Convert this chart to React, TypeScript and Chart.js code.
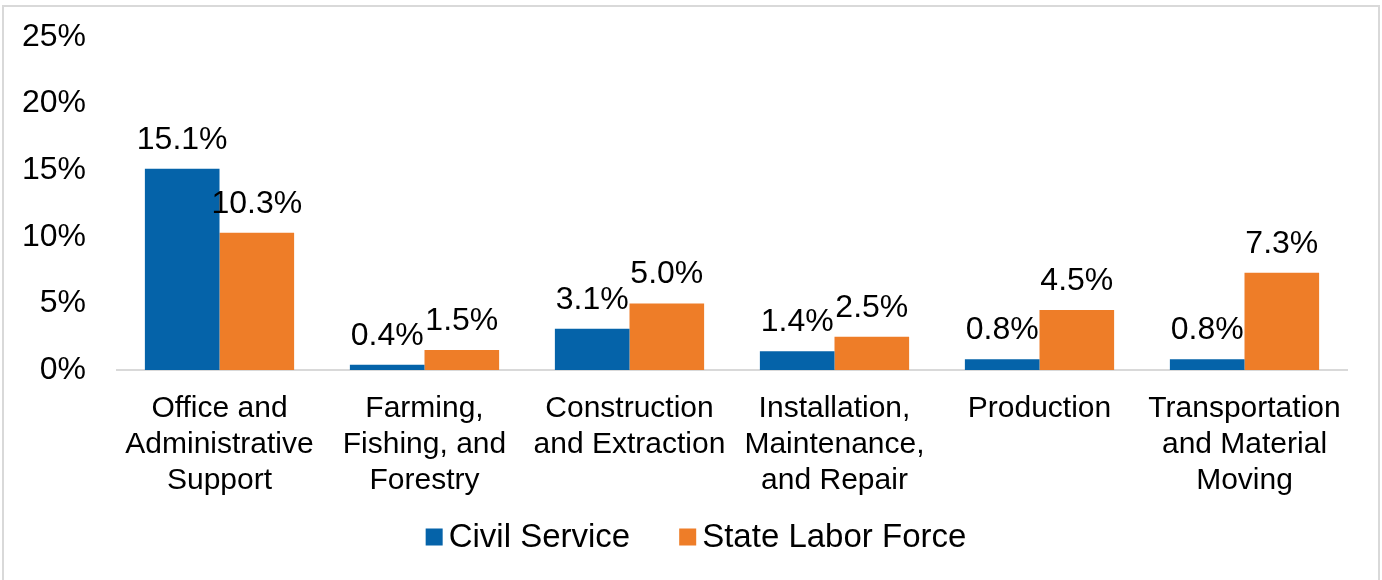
import React, { useEffect, useRef } from "react";
import { Chart, registerables } from "chart.js";

Chart.register(...registerables);

const categories: string[][] = [
  ["Office and", "Administrative", "Support"],
  ["Farming,", "Fishing, and", "Forestry"],
  ["Construction", "and Extraction"],
  ["Installation,", "Maintenance,", "and Repair"],
  ["Production"],
  ["Transportation", "and Material", "Moving"],
];
const civilService: number[] = [15.1, 0.4, 3.1, 1.4, 0.8, 0.8];
const stateLaborForce: number[] = [10.3, 1.5, 5.0, 2.5, 4.5, 7.3];
const seriesNames: string[] = ["Civil Service", "State Labor Force"];
const yTicks: number[] = [0, 5, 10, 15, 20, 25];

const FONT = "'Liberation Sans', Arial, Helvetica, sans-serif";
const BLUE = "#0563a9";
const ORANGE = "#ee7d28";

const dataLabelPlugin = {
  id: "dataLabels",
  afterDatasetsDraw(chart: any) {
    const ctx = chart.ctx;
    ctx.save();
    ctx.font = `32px ${FONT}`;
    ctx.fillStyle = "#000";
    ctx.textAlign = "center";
    ctx.textBaseline = "alphabetic";
    chart.data.datasets.forEach((ds: any, di: number) => {
      const meta = chart.getDatasetMeta(di);
      meta.data.forEach((el: any, i: number) => {
        const v = ds.data[i] as number;
        ctx.fillText(`${v.toFixed(1)}%`, el.x, el.y - 20);
      });
    });
    ctx.restore();
  },
};

const legendPlugin = {
  id: "customLegend",
  afterDraw(chart: any) {
    const ctx = chart.ctx;
    ctx.save();
    ctx.font = `33px ${FONT}`;
    ctx.textBaseline = "middle";
    ctx.textAlign = "left";
    const box = 17;
    const gap = 6;
    const spacing = 49;
    const items = chart.data.datasets.map((ds: any) => ({
      label: ds.label as string,
      color: ds.backgroundColor as string,
      w: ctx.measureText(ds.label).width,
    }));
    const total = items.reduce(
      (s: number, it: any, i: number) => s + box + gap + it.w + (i > 0 ? spacing : 0),
      0
    );
    let x = chart.width / 2 + 5 - total / 2;
    const cy = 538;
    items.forEach((it: any) => {
      ctx.fillStyle = it.color;
      ctx.fillRect(x, cy - box / 2 - 1, box, box);
      x += box + gap;
      ctx.fillStyle = "#000";
      ctx.fillText(it.label, x, cy);
      x += it.w + spacing;
    });
    ctx.restore();
  },
};

export default function App() {
  const canvasRef = useRef<HTMLCanvasElement | null>(null);

  useEffect(() => {
    document.body.style.margin = "0";
    const canvas = canvasRef.current;
    if (!canvas) return;
    const chart = new Chart(canvas, {
      type: "bar",
      data: {
        labels: categories,
        datasets: [
          {
            label: seriesNames[0],
            data: civilService,
            backgroundColor: BLUE,
            borderWidth: 0,
            categoryPercentage: 0.728,
            barPercentage: 1,
          },
          {
            label: seriesNames[1],
            data: stateLaborForce,
            backgroundColor: ORANGE,
            borderWidth: 0,
            categoryPercentage: 0.728,
            barPercentage: 1,
          },
        ],
      },
      options: {
        animation: false,
        responsive: false,
        maintainAspectRatio: false,
        devicePixelRatio: 1,
        layout: { padding: { left: 0, top: 37, right: 35, bottom: 0 } },
        plugins: {
          legend: { display: false },
          tooltip: { enabled: false },
          title: { display: false },
        },
        scales: {
          x: {
            grid: { display: false, drawTicks: false },
            border: { display: true, color: "#d9d9d9", width: 2 },
            ticks: {
              font: { family: FONT, size: 30, lineHeight: 1.2 },
              color: "#000",
              padding: 21,
              maxRotation: 0,
              autoSkip: false,
            },
            afterFit: (scale: any) => {
              scale.height = 210;
            },
          },
          y: {
            min: yTicks[0],
            max: yTicks[yTicks.length - 1],
            grid: { display: false, drawTicks: false },
            border: { display: false },
            afterBuildTicks: (scale: any) => {
              scale.ticks = yTicks.map((v) => ({ value: v }));
            },
            ticks: {
              font: { family: FONT, size: 32 },
              color: "#000",
              padding: 31,
              callback: (v: any) => `${v}%`,
            },
            afterFit: (scale: any) => {
              scale.width = 117;
              scale.paddingTop = 0;
              scale.paddingBottom = 0;
            },
          },
        },
      },
      plugins: [dataLabelPlugin, legendPlugin],
    });
    return () => chart.destroy();
  }, []);

  return (
    <div style={{ position: "relative", width: 1382, height: 580, background: "#fff", overflow: "hidden" }}>
      <canvas ref={canvasRef} width={1382} height={580} style={{ position: "absolute", left: 0, top: 0, width: 1382, height: 580 }} />
      <div
        style={{
          position: "absolute",
          left: 2,
          top: 5,
          width: 1378,
          height: 600,
          boxSizing: "border-box",
          borderTop: "2px solid #d9d9d9",
          borderLeft: "2px solid #d9d9d9",
          borderRight: "2px solid #d9d9d9",
          pointerEvents: "none",
        }}
      />
    </div>
  );
}
